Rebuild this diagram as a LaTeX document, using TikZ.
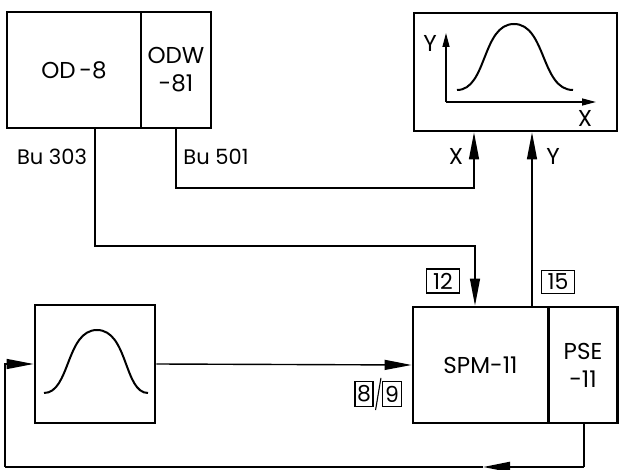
\documentclass[tikz,border=0pt]{standalone}
\usepackage{fontspec}
\setmainfont{Poppins}
\usetikzlibrary{arrows.meta,calc}
\begin{document}
\begin{tikzpicture}[x=1pt,y=-1pt,
  box/.style={draw,line width=2.8pt,rectangle,inner sep=0pt,
    font=\fontsize{23}{28}\selectfont,align=center},
  numbox/.style={draw,line width=1.1pt,rectangle,inner sep=0pt,
    font=\fontsize{22}{26}\selectfont},
  conn/.style={line width=1.4pt},
  tip/.style={-{Triangle[length=27pt,width=10pt]}},
  smalltip/.style={-{Triangle[length=14pt,width=7pt]}},
  lbl/.style={font=\fontsize{21}{25}\selectfont,inner sep=0pt},
  curve/.style={line width=2pt}]
\useasboundingbox (0,0) rectangle (619,470);
% top-left boxes
\node[box,minimum width=134pt,minimum height=116pt] (od8) at (74,70) {OD\,-8};
\node[box,minimum width=70pt,minimum height=116pt] (odw) at (176,70) {ODW\\-81};
\node[lbl] (bu303) at (52,157) {Bu 303};
\node[lbl] (bu501) at (216,157) {Bu 501};
% plotter box
\node[box,minimum width=203pt,minimum height=118pt] (plot) at (515.5,72) {};
\coordinate (ax0) at (446,102);
\coordinate (axy) at (446,33);
\coordinate (axx) at (596,102);
\draw[conn,smalltip] (ax0) -- (axy);
\draw[conn,smalltip] (ax0) -- (axx);
\node[lbl,font=\fontsize{23}{27}\selectfont] (ylab) at (430,43) {Y};
\node[lbl,font=\fontsize{23}{27}\selectfont] (xlab) at (585,118) {X};
\draw[curve] (457,90) .. controls (487,90) and (482,24) .. (514,24)
  .. controls (546,24) and (541,90) .. (573,90);
% bell box
\node[box,minimum width=120pt,minimum height=118pt] (bell) at (95,364) {};
\draw[curve] (44,393) .. controls (70,393) and (66,330) .. (97,330)
  .. controls (128,330) and (124,393) .. (148,393);
% SPM / PSE
\node[box,minimum width=135pt,minimum height=116pt] (spm) at (480.5,365) {SPM-11};
\node[box,minimum width=69pt,minimum height=116pt] (pse) at (583,365) {PSE\\-11};
% number boxes
\node[numbox,minimum width=33pt,minimum height=24pt] (n12) at (443,281) {12};
\node[numbox,minimum width=33pt,minimum height=23pt] (n15) at (558,282) {15};
\node[numbox,minimum width=18pt,minimum height=25pt] (n8) at (364,394) {8};
\node[numbox,minimum width=19pt,minimum height=25pt] (n9) at (392,394) {9};
\draw[line width=1.1pt] (n8.south east) ++(2,3) -- ($(n9.north west)+(-1,-3)$);
% X / Y inputs
\node[lbl,font=\fontsize{23}{27}\selectfont] (xin) at (456,156) {X};
\node[lbl,font=\fontsize{23}{27}\selectfont] (yin) at (553,156) {Y};
% connectors
\coordinate (k303) at (95,246);
\coordinate (k501) at (176,188);
\draw[conn,tip] (od8.south -| k303) -- (k303) -- (k303 -| 475,0) -- (spm.north -| 475,0);
\draw[conn,tip] (odw.south -| k501) -- (k501) -- (k501 -| 474,0) -- (plot.south -| 474,0);
\draw[conn,tip] (spm.north -| 532,0) -- (plot.south -| 532,0);
\draw[conn,tip] (bell.east) -- (spm.west);
\coordinate (fb1) at (584,467);
\coordinate (fbm) at (483,467);
\coordinate (fb2) at (5,467);
\draw[conn] (pse.south -| fb1) -- (fb1);
\draw[line width=2.2pt,tip] (fb1) -- (fbm);
\draw[line width=2.2pt] (fbm) -- (fb2);
\draw[conn,tip] (fb2) -- (fb2 |- bell.west) -- (bell.west);
\end{tikzpicture}
\end{document}
